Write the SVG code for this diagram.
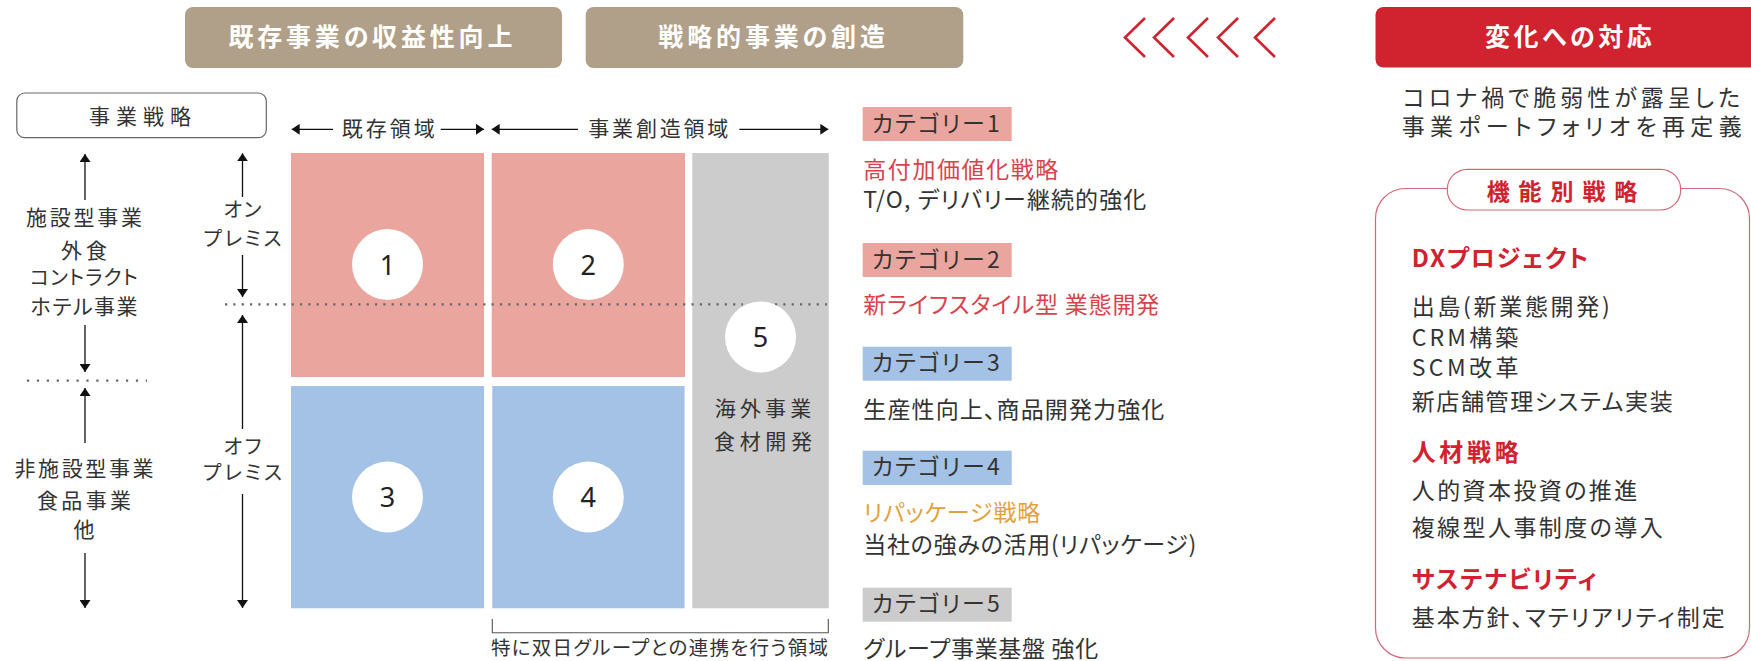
<svg xmlns="http://www.w3.org/2000/svg" width="1751" height="661" viewBox="0 0 1751 661">
<defs>
<style>
text{font-family:"Noto Sans CJK JP","Noto Sans",sans-serif;fill:#333;font-feature-settings:"palt";}
.hd{font-size:25px;font-weight:700;fill:#fff;}
.lc{font-size:21px;text-anchor:middle;}
.mc{font-size:20px;text-anchor:middle;}
.b22{font-size:23px;}
.red{fill:#d8434b;}
.org{fill:#e3a13c;}
.rh{font-size:24px;font-weight:700;fill:#d0222f;}
.num{font-size:27px;fill:#222;text-anchor:middle;font-family:"Noto Sans","Noto Sans CJK JP",sans-serif;}
.pink{fill:#eaa69e;}
.blue{fill:#a3c2e6;}
.gray{fill:#cbcccb;}
.ln{stroke:#111;stroke-width:1.3;fill:none;}
.dot{stroke:#666;stroke-width:2.2;fill:none;}
.chev{stroke:#d0222f;stroke-width:2.6;fill:none;stroke-linejoin:miter;}
</style>
<marker id="ah" viewBox="0 0 8 11" refX="8" refY="5.5" markerWidth="8" markerHeight="11" markerUnits="userSpaceOnUse" orient="auto"><path d="M0,0L8,5.5L0,11z" fill="#111"/></marker>
</defs>
<rect width="1751" height="661" fill="#fff"/>

<g id="header-existing">
<rect x="185" y="7" width="377" height="61" rx="8" fill="#b09f89"/>
<text class="hd" x="228.4" y="45.5" textLength="284" lengthAdjust="spacing">既存事業の収益性向上</text>
</g>
<g id="header-strategic">
<rect x="585.7" y="7" width="377.6" height="61" rx="8" fill="#b09f89"/>
<text class="hd" x="658.3" y="45.5" textLength="226.7" lengthAdjust="spacing">戦略的事業の創造</text>
</g>
<g id="chevrons">
<polyline class="chev" points="1145,18 1125,37.5 1145,57"/>
<polyline class="chev" points="1174,18 1154,37.5 1174,57"/>
<polyline class="chev" points="1208,18 1188,37.5 1208,57"/>
<polyline class="chev" points="1238,18 1218,37.5 1238,57"/>
<polyline class="chev" points="1275,18 1255,37.5 1275,57"/>
</g>
<g id="header-change">
<rect x="1375.5" y="7" width="390" height="60.5" rx="8" fill="#d0222f"/>
<text class="hd" x="1485" y="45.5" textLength="166.7" lengthAdjust="spacing">変化への対応</text>
</g>

<g id="business-strategy">
<rect x="16.8" y="93" width="249.5" height="44.7" rx="8" fill="#fff" stroke="#666" stroke-width="1.2"/>
<text x="140" y="124" font-size="21" text-anchor="middle" textLength="102" lengthAdjust="spacing">事業戦略</text>
</g>

<g id="label-facility">
<text class="lc" x="84" y="224.7" textLength="116" lengthAdjust="spacing">施設型事業</text>
<text class="lc" x="84" y="258" textLength="46" lengthAdjust="spacing">外食</text>
<text class="mc" x="84" y="285.1" textLength="108" lengthAdjust="spacing">コントラクト</text>
<text class="lc" x="84" y="314" textLength="107" lengthAdjust="spacing">ホテル事業</text>
</g>
<g id="label-nonfacility">
<text class="lc" x="84" y="475.5" textLength="139" lengthAdjust="spacing">非施設型事業</text>
<text class="lc" x="84" y="508" textLength="94" lengthAdjust="spacing">食品事業</text>
<text class="lc" x="84" y="537">他</text>
</g>
<g id="label-onpremise">
<text class="mc" x="242.5" y="216.6" textLength="38" lengthAdjust="spacing">オン</text>
<text class="mc" x="242.5" y="245.6" textLength="78" lengthAdjust="spacing">プレミス</text>
</g>
<g id="label-offpremise">
<text class="mc" x="242.5" y="453.6" textLength="38" lengthAdjust="spacing">オフ</text>
<text class="mc" x="242.5" y="480.1" textLength="79" lengthAdjust="spacing">プレミス</text>
</g>
<g id="label-existing-area">
<text x="341.7" y="136" font-size="21" textLength="93" lengthAdjust="spacing">既存領域</text>
</g>
<g id="label-creation-area">
<text x="588.3" y="136" font-size="21" textLength="140" lengthAdjust="spacing">事業創造領域</text>
</g>

<g id="cell-1">
<rect class="pink" x="291" y="153" width="193" height="224"/>
</g>
<g id="cell-2">
<rect class="pink" x="491.7" y="153" width="193.3" height="224"/>
</g>
<g id="cell-3">
<rect class="blue" x="291" y="386" width="193" height="222.3"/>
<circle cx="387.5" cy="497" r="35.5" fill="#fff"/>
<text class="num" x="387.5" y="507">3</text>
</g>
<g id="cell-4">
<rect class="blue" x="492.3" y="386" width="192.3" height="222.3"/>
<circle cx="588.3" cy="497" r="35.5" fill="#fff"/>
<text class="num" x="588.3" y="507">4</text>
</g>
<g id="cell-5">
<rect class="gray" x="692.3" y="153" width="136.5" height="455.3"/>
<text x="763" y="416" font-size="21" text-anchor="middle" textLength="96.5" lengthAdjust="spacing">海外事業</text>
<text x="763" y="449" font-size="21" text-anchor="middle" textLength="98" lengthAdjust="spacing">食材開発</text>
</g>

<g id="connectors">
<line class="ln" x1="85" y1="200" x2="85" y2="154" marker-end="url(#ah)"/>
<line class="ln" x1="85" y1="325" x2="85" y2="372" marker-end="url(#ah)"/>
<line class="ln" x1="85" y1="443" x2="85" y2="388" marker-end="url(#ah)"/>
<line class="ln" x1="85" y1="553" x2="85" y2="608" marker-end="url(#ah)"/>
<line class="ln" x1="242.5" y1="197" x2="242.5" y2="153.3" marker-end="url(#ah)"/>
<line class="ln" x1="242.5" y1="255" x2="242.5" y2="297" marker-end="url(#ah)"/>
<line class="ln" x1="242.5" y1="429" x2="242.5" y2="315" marker-end="url(#ah)"/>
<line class="ln" x1="242.5" y1="494" x2="242.5" y2="608" marker-end="url(#ah)"/>
<line class="ln" x1="333" y1="129.3" x2="291.7" y2="129.3" marker-end="url(#ah)"/>
<line class="ln" x1="440.7" y1="129.3" x2="484" y2="129.3" marker-end="url(#ah)"/>
<line class="ln" x1="578" y1="129.3" x2="491.7" y2="129.3" marker-end="url(#ah)"/>
<line class="ln" x1="739.3" y1="129.3" x2="828.3" y2="129.3" marker-end="url(#ah)"/>
<line class="dot" x1="225" y1="304.3" x2="743" y2="304.3" stroke-dasharray="2.2 6.13"/>
<line class="dot" x1="775" y1="304.3" x2="827" y2="304.3" stroke-dasharray="2.2 6.13"/>
<line class="dot" x1="27" y1="380.7" x2="147" y2="380.7" stroke-dasharray="2.2 7.7"/>
<polyline points="492.3,619 492.3,632.7 828.3,632.7 828.3,619" fill="none" stroke="#555" stroke-width="1.1"/>
</g>

<g id="cell-1-marker">
<circle cx="387.5" cy="264.5" r="35.5" fill="#fff"/>
<text class="num" x="387.5" y="274.5">1</text>
</g>
<g id="cell-2-marker">
<circle cx="588.3" cy="264.5" r="35.5" fill="#fff"/>
<text class="num" x="588.3" y="274.5">2</text>
</g>
<g id="cell-5-marker">
<circle cx="760.5" cy="337" r="35.5" fill="#fff"/>
<text class="num" x="760.5" y="347">5</text>
</g>
<g id="bracket-label">
<text x="491" y="655.4" font-size="19.5" textLength="337" lengthAdjust="spacing">特に双日グループとの連携を行う領域</text>
</g>

<g id="category-1">
<rect class="pink" x="862.7" y="107" width="149" height="34"/>
<text class="b22" x="871.7" y="131.7" textLength="128" lengthAdjust="spacing">カテゴリー1</text>
<text class="b22 red" x="863.3" y="178.2" textLength="195" lengthAdjust="spacing">高付加価値化戦略</text>
<text class="b22" x="863.3" y="207.7" textLength="283" lengthAdjust="spacing">T/O, デリバリー継続的強化</text>
</g>
<g id="category-2">
<rect class="pink" x="862.7" y="243" width="149" height="34"/>
<text class="b22" x="871.7" y="267.7" textLength="128" lengthAdjust="spacing">カテゴリー2</text>
<text class="b22 red" x="863.3" y="312.7" textLength="296" lengthAdjust="spacing">新ライフスタイル型 業態開発</text>
</g>
<g id="category-3">
<rect class="blue" x="862.7" y="346.7" width="149" height="34"/>
<text class="b22" x="871.7" y="371.4" textLength="128" lengthAdjust="spacing">カテゴリー3</text>
<text class="b22" x="863.3" y="417.7" textLength="301" lengthAdjust="spacing">生産性向上、商品開発力強化</text>
</g>
<g id="category-4">
<rect class="blue" x="862.7" y="450.7" width="149" height="34.3"/>
<text class="b22" x="871.7" y="475.4" textLength="128" lengthAdjust="spacing">カテゴリー4</text>
<text class="b22 org" x="863.3" y="521.2" textLength="177" lengthAdjust="spacing">リパッケージ戦略</text>
<text class="b22" x="863.3" y="552.7" textLength="333" lengthAdjust="spacing">当社の強みの活用(リパッケージ)</text>
</g>
<g id="category-5">
<rect class="gray" x="862.7" y="587.7" width="149" height="34"/>
<text class="b22" x="871.7" y="612.4" textLength="128" lengthAdjust="spacing">カテゴリー5</text>
<text class="b22" x="863.3" y="656.5" textLength="235" lengthAdjust="spacing">グループ事業基盤 強化</text>
</g>

<g id="change-desc">
<text class="b22" x="1403" y="105.7" textLength="337" lengthAdjust="spacing">コロナ禍で脆弱性が露呈した</text>
<text class="b22" x="1401.7" y="134.7" textLength="340" lengthAdjust="spacing">事業ポートフォリオを再定義</text>
</g>

<g id="functional-strategy">
<rect x="1375.5" y="188.5" width="374" height="469.5" rx="30" fill="#fff" stroke="#cf6a76" stroke-width="1.2"/>
<rect x="1447.3" y="169.3" width="233.4" height="40.7" rx="20" fill="#fff" stroke="#cf6a76" stroke-width="1.2"/>
<text x="1486.7" y="199.8" font-size="23" font-weight="700" style="fill:#d0222f" textLength="150.6" lengthAdjust="spacing">機能別戦略</text>
<text class="rh" x="1411.7" y="266.9" textLength="176.6" lengthAdjust="spacing">DXプロジェクト</text>
<text class="b22" x="1411.7" y="314.7" textLength="198" lengthAdjust="spacing">出島(新業態開発)</text>
<text class="b22" x="1411.7" y="345.7" textLength="106.6" lengthAdjust="spacing">CRM構築</text>
<text class="b22" x="1411.7" y="376.2" textLength="106.7" lengthAdjust="spacing">SCM改革</text>
<text class="b22" x="1411.7" y="410.4" textLength="261" lengthAdjust="spacing">新店舗管理システム実装</text>
<text class="rh" x="1411.7" y="461.1" textLength="107" lengthAdjust="spacing">人材戦略</text>
<text class="b22" x="1411.7" y="498.7" textLength="225.6" lengthAdjust="spacing">人的資本投資の推進</text>
<text class="b22" x="1411.7" y="535.7" textLength="251" lengthAdjust="spacing">複線型人事制度の導入</text>
<text class="rh" x="1411.7" y="588.1" textLength="185" lengthAdjust="spacing">サステナビリティ</text>
<text class="b22" x="1411.7" y="625.7" textLength="313" lengthAdjust="spacing">基本方針、マテリアリティ制定</text>
</g>
</svg>
